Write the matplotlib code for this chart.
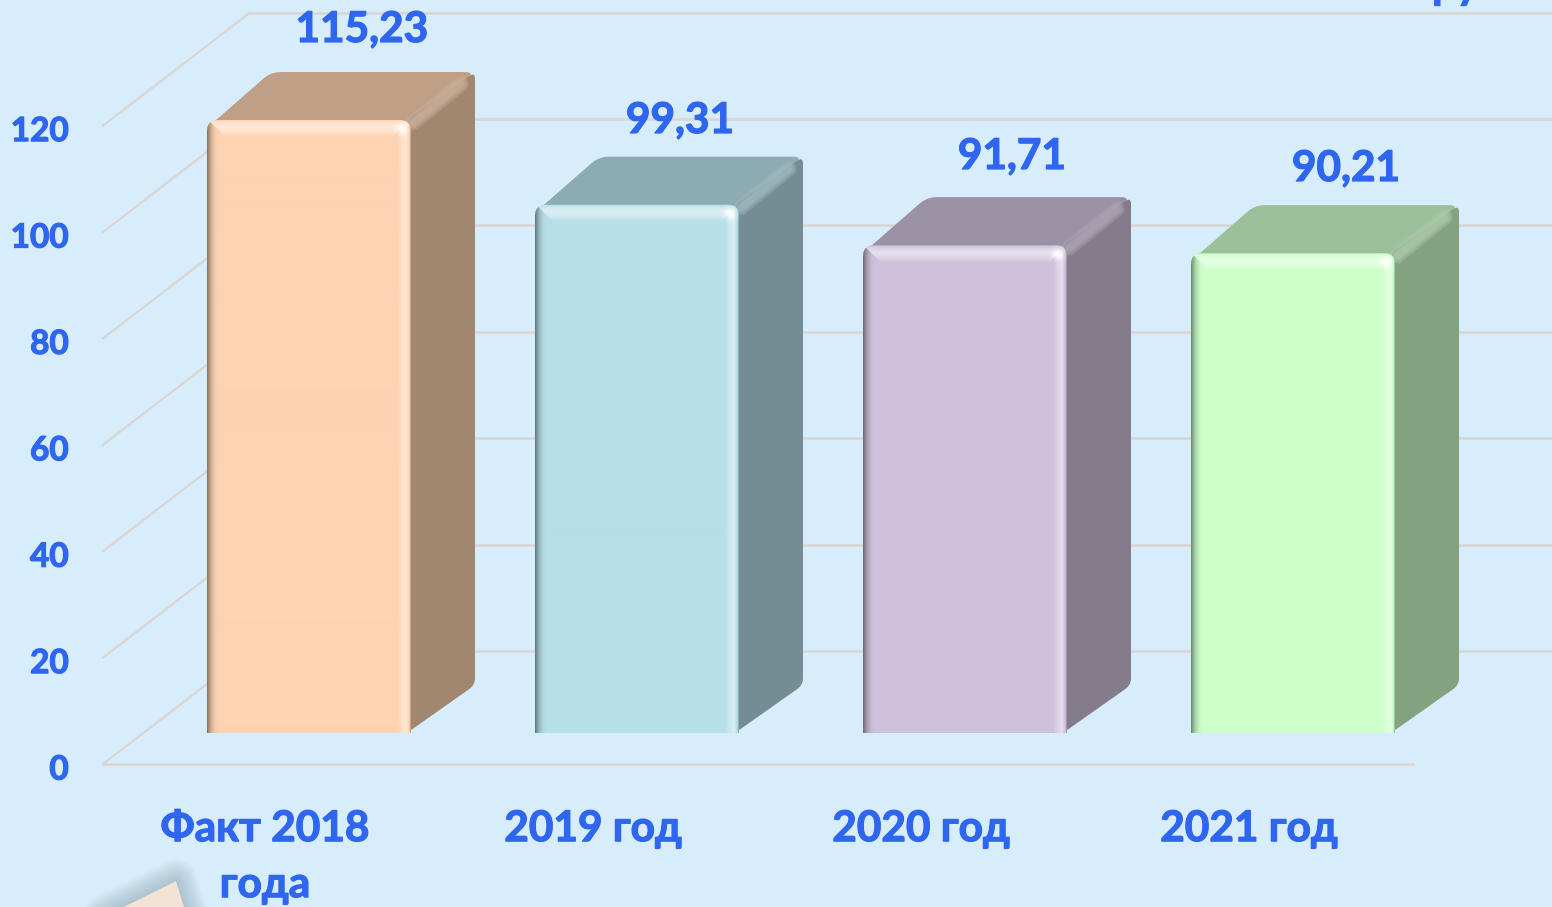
import numpy as np
import matplotlib
matplotlib.use('Agg')
import matplotlib.pyplot as plt
import matplotlib.patheffects as pe
from matplotlib.patches import Polygon
from matplotlib.colors import to_rgb

categories = ['Факт 2018\nгода', '2019 год', '2020 год', '2021 год']
values = [115.23, 99.31, 91.71, 90.21]
value_labels = ['115,23', '99,31', '91,71', '90,21']
ticks = [0, 20, 40, 60, 80, 100, 120]
front_colors = ['#FDD3B2', '#B7DFE9', '#CEC1DC', '#CCFFCA']
top_colors = ['#BFA086', '#8CABB3', '#9C92A6', '#9CC099']
side_colors = ['#A18770', '#748D95', '#847B8B', '#82A280']

W, H = 1552, 907
PX_X = 328.0
PX_Y = 5.32
bg = '#D8EDFB'
blue = '#2F66F0'
grid = '#D8D7D5'
bold = [pe.withStroke(linewidth=0.9, foreground=blue)]

plt.rcParams['font.family'] = ['Lato', 'DejaVu Sans']
fig = plt.figure(figsize=(W / 100, H / 100), dpi=100, facecolor=bg)
ax = fig.add_axes([75 / W, (H - 790) / H, (W - 75) / W, 790 / H], facecolor='none')
for s in ax.spines.values():
    s.set_visible(False)

bar_w = 204 / PX_X
depth_x, depth_y = 64 / PX_X, 48 / PX_Y
floor_y = -31 / PX_Y
floor_l, floor_r = (103 - 309) / PX_X, (1413 - 309) / PX_X
wall_x, wall_y = 147 / PX_X, 113 / PX_Y

# chart frame
ax.plot([floor_l, floor_r], [floor_y, floor_y], color=grid, lw=2, clip_on=False)
for t in ticks:
    y0 = floor_y + t
    ax.plot([floor_l, floor_l + wall_x], [y0, y0 + wall_y], color=grid, lw=1.7, clip_on=False)
    ax.plot([floor_l + wall_x, floor_r + wall_x], [y0 + wall_y, y0 + wall_y], color=grid, lw=2, clip_on=False)


def shade(c, f):
    c = np.array(to_rgb(c))
    if f < 0:
        return c * (1 + f)
    return c + (1 - c) * f


def rounded(pts, r_x, r_y):
    # cut the corners of a polygon a little
    out = []
    n = len(pts)
    for i in range(n):
        p = np.array(pts[i])
        a = np.array(pts[i - 1])
        b = np.array(pts[(i + 1) % n])
        sc = np.array([1 / r_x, 1 / r_y])
        da = (a - p) * sc
        db = (b - p) * sc
        da = da / np.hypot(*da) / sc
        db = db / np.hypot(*db) / sc
        for k in np.linspace(0, 1, 6):
            out.append(p + (da * (1 - k) ** 2 + db * k ** 2))
    return out


def front_face(x0, x1, v, color):
    # front of a bar as a shaded picture: dark outer rim, light bevel inside
    nx = int(round((x1 - x0) * PX_X))
    ny = int(round(v * PX_Y))
    xx, yy = np.meshgrid(np.arange(nx) + .5, np.arange(ny) + .5)
    dl, dr, dt = xx, nx - xx, ny - yy
    left = np.interp(dl, [0, 2, 5, 9, 13], [-.48, -.32, -.14, -.02, 0])
    right = np.interp(dr, [0, 2, 5, 9, 14], [-.3, .05, .45, .3, 0])
    top = np.interp(dt, [0, 3, 7, 12, 18], [-.12, .25, .5, .35, 0])
    amount = np.where((dl <= dr) & (dl <= dt), left, np.where(dr <= dt, right, top))
    amount += .65 * np.exp(-((dr - 9) ** 2 + (dt - 10) ** 2) / 30)
    amount = np.clip(amount, -1, 1)[..., None]
    base = np.array(to_rgb(color))
    img = np.where(amount < 0, base * (1 + amount), base + (1 - base) * amount)
    im = ax.imshow(img, extent=(x0, x1, 0, v), origin='lower', aspect='auto',
                   interpolation='bilinear', zorder=5)
    # bottom of the clip lies below the bar, only the top corners get rounded
    clip = Polygon(rounded([(x0, -20), (x0, v), (x1, v), (x1, -20)], 11 / PX_X, 11 / PX_Y),
                   fc='none', ec='none', transform=ax.transData)
    ax.add_patch(clip)
    clip.set_clip_on(False)
    im.set_clip_path(clip)


rx, ry = 10 / PX_X, 10 / PX_Y
for i, v in enumerate(values):
    x0, x1 = i - bar_w / 2, i + bar_w / 2
    # top and side faces, the front corners of the top stay sharp behind the front face
    top_pts = rounded([(x0 + 3 / PX_X, v - 1), (x0 + depth_x, v + depth_y), (x1 + depth_x, v + depth_y), (x1, v - 2.5)], rx, ry)
    top_pts = [(x0 + 3 / PX_X, v - 1)] + top_pts[6:18] + [(x1, v - 2.5)]
    ax.add_patch(Polygon(top_pts, fc=top_colors[i], ec='none', zorder=3, clip_on=False))
    ax.add_patch(Polygon(rounded([(x1 - 4 / PX_X, 0), (x1 + depth_x, depth_y), (x1 + depth_x, v + depth_y), (x1 - 4 / PX_X, v)], rx * .7, ry * .7),
                         fc=side_colors[i], ec='none', zorder=3, clip_on=False))
    # ridge between top and side
    for lw, a in [(11, .35), (8, .4), (5, .45)]:
        ax.plot([x1 + 2 / PX_X, x1 + depth_x - 14 / PX_X], [v - 3 / PX_Y, v + depth_y - 12 / PX_Y],
                color=shade(top_colors[i], 0.2), lw=lw, alpha=a, solid_capstyle='round', zorder=3.5, clip_on=False)
    front_face(x0, x1, v, front_colors[i])
ax.set_xlim((75 - 309) / PX_X, (W - 309) / PX_X)
ax.set_ylim((733 - 790) / PX_Y, 733 / PX_Y)

# value labels
label_dx = [53, 43, 47, 53]
label_py = [30, 121, 157, 169]
for i, v in enumerate(values):
    ax.text(i + label_dx[i] / PX_X, (733 - label_py[i]) / PX_Y, value_labels[i], color=blue, fontsize=30.5,
            fontweight='bold', ha='center', va='center', zorder=6, clip_on=False, path_effects=bold)

# axes labels
ax.set_yticks([floor_y + t - 3.5 / PX_Y for t in ticks])
ax.set_yticklabels([str(t) for t in ticks])
ax.set_xticks([i - 44 / PX_X for i in range(len(categories))])
ax.set_xticklabels(categories, linespacing=1.58)
ax.tick_params(axis='y', length=0, pad=4.5, labelsize=24, labelcolor=blue)
ax.tick_params(axis='x', length=0, pad=14.5, labelsize=30.5, labelcolor=blue)
for lab in ax.get_xticklabels() + ax.get_yticklabels():
    lab.set_fontweight('bold')
    lab.set_path_effects(bold)

# cut-off unit at the top edge and paper corner
fig.text(1418 / W, 1 + 1.5 / H, 'млн. руб', color=blue, fontsize=30.5, fontweight='bold', ha='center', va='baseline',
         path_effects=bold)

corner = [(105 / W, -.01), (176 / W, 1 - 881 / H), (187 / W, -.01)]
for k in range(12, 0, -1):
    fig.add_artist(Polygon(corner, transform=fig.transFigure, fc='#6F8790', ec='#6F8790', lw=k * 2.6,
                           alpha=.035, joinstyle='round'))
fig.add_artist(Polygon(corner, transform=fig.transFigure, fc='#F3E3D5', ec='none'))

fig.savefig('out.png', dpi=100, facecolor=bg)
